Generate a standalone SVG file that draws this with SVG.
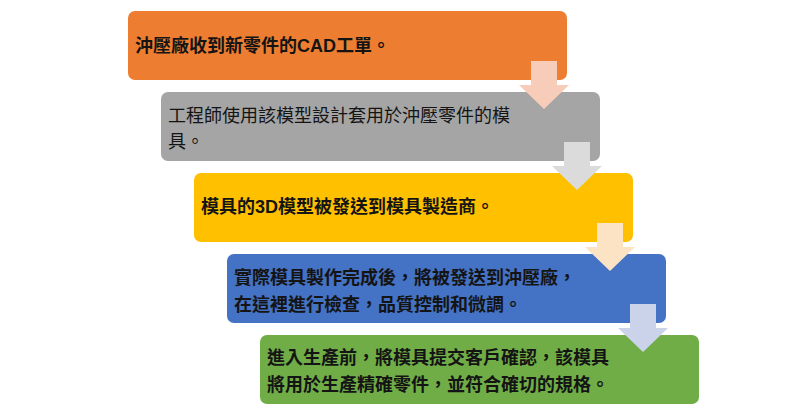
<svg xmlns="http://www.w3.org/2000/svg" xmlns:xlink="http://www.w3.org/1999/xlink" width="800" height="420" viewBox="0 0 800 420" lang="zh-Hant-TW" xml:lang="zh-Hant-TW">
  <style>
    .box { stroke: none; }
    .t { font-family: "Noto Sans CJK TC", "Noto Sans CJK SC", "Liberation Sans", sans-serif; font-size: 18px; font-weight: 700; fill: #141414; }
    .t.reg { font-weight: 400; }
    .lat { font-family: "Liberation Sans", "Noto Sans CJK TC", sans-serif; }
  </style>
  <defs>
    <path id="arr" d="M-13,50 H13 V74 H25 L0,98 L-25,74 H-13 Z"/>
  </defs>
  <rect width="800" height="420" fill="#ffffff"/>
  <g id="node1">
    <rect class="box" x="128" y="11" width="439" height="69" rx="7" fill="#ED7D31"/>
    <text class="t" x="135" y="52">沖壓廠收到新零件的<tspan class="lat">CAD</tspan>工單。</text>
  </g>
  <g id="node2">
    <rect class="box" x="161" y="92" width="439" height="69" rx="7" fill="#A5A5A5"/>
    <text class="t reg" x="168" y="121.5">工程師使用該模型設計套用於沖壓零件的模</text>
    <text class="t reg" x="168" y="148">具。</text>
  </g>
  <g id="node3">
    <rect class="box" x="194" y="173" width="439" height="69" rx="7" fill="#FFC000"/>
    <text class="t" x="201" y="213">模具的<tspan class="lat">3D</tspan>模型被發送到模具製造商。</text>
  </g>
  <g id="node4">
    <rect class="box" x="227" y="254" width="439" height="69" rx="7" fill="#4472C4"/>
    <text class="t" x="234" y="284">實際模具製作完成後，將被發送到沖壓廠，</text>
    <text class="t" x="234" y="311">在這裡進行檢查，品質控制和微調。</text>
  </g>
  <g id="node5">
    <rect class="box" x="260" y="335" width="439" height="69" rx="7" fill="#70AD47"/>
    <text class="t" x="267" y="364">進入生產前，將模具提交客戶確認，該模具</text>
    <text class="t" x="267" y="391">將用於生產精確零件，並符合確切的規格。</text>
  </g>
  <g id="connectors">
    <use xlink:href="#arr" href="#arr" transform="translate(544,11)" fill="#F7CDB9"/>
    <use xlink:href="#arr" href="#arr" transform="translate(577,92)" fill="#DBDBDB"/>
    <use xlink:href="#arr" href="#arr" transform="translate(610,173)" fill="#FBE3C4"/>
    <use xlink:href="#arr" href="#arr" transform="translate(643,254)" fill="#CAD3E9"/>
  </g>
</svg>
